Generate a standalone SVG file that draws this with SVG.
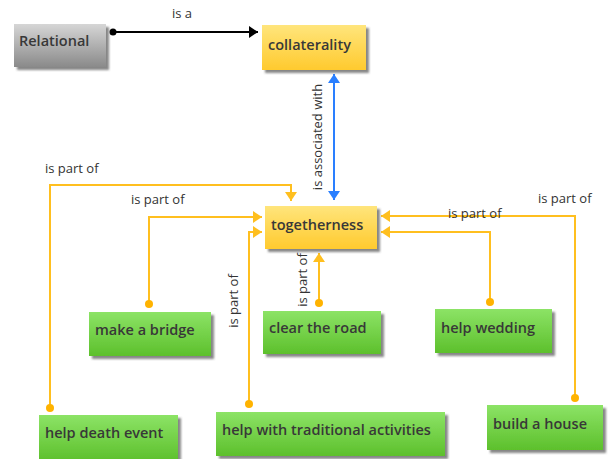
<svg xmlns="http://www.w3.org/2000/svg" width="611" height="459" viewBox="0 0 611 459">
<defs>
<linearGradient id="gGray" x1="0" y1="0" x2="0" y2="1"><stop offset="0" stop-color="#d6d6d6"/><stop offset="1" stop-color="#8a8a8a"/></linearGradient>
<linearGradient id="gYellow" x1="0" y1="0" x2="0" y2="1"><stop offset="0" stop-color="#ffe57c"/><stop offset="1" stop-color="#ffca2e"/></linearGradient>
<linearGradient id="gGreen" x1="0" y1="0" x2="0" y2="1"><stop offset="0" stop-color="#8ce366"/><stop offset="1" stop-color="#5dc02c"/></linearGradient>
<filter id="sh" x="-10%" y="-10%" width="130%" height="140%"><feDropShadow dx="3" dy="3" stdDeviation="1.2" flood-color="#555" flood-opacity="0.7"/></filter>
<marker id="aO" markerWidth="10" markerHeight="12" refX="9" refY="6" orient="auto" markerUnits="userSpaceOnUse"><path d="M0,0 L9,6 L0,12 Z" fill="#ffbf1f"/></marker>
<marker id="aB" markerWidth="10" markerHeight="12" refX="9" refY="6" orient="auto-start-reverse" markerUnits="userSpaceOnUse"><path d="M0,0 L9,6 L0,12 Z" fill="#2a7fff"/></marker>
<marker id="aK" markerWidth="10" markerHeight="12" refX="9" refY="6" orient="auto" markerUnits="userSpaceOnUse"><path d="M0,0 L9,6 L0,12 Z" fill="#000"/></marker>
</defs>
<style>
.node text{font-family:"Open Sans","Noto Sans",sans-serif;font-size:14.5px;font-weight:600;fill:#383838;}
.lbl{font-family:"Open Sans","Noto Sans",sans-serif;font-size:13px;fill:#333;}
.o{fill:none;stroke:#ffbf1f;stroke-width:2;}
.dot{fill:#ffb300;}
</style>
<g id="connectors">
<path d="M113,32 H258" fill="none" stroke="#000" stroke-width="2" marker-end="url(#aK)"/>
<circle cx="113" cy="32" r="3.5" fill="#000"/>
<path d="M334,74 V200" fill="none" stroke="#2a7fff" stroke-width="2" marker-start="url(#aB)" marker-end="url(#aB)"/>
<path class="o" d="M50,408 V185 H291 V201" marker-end="url(#aO)"/>
<circle class="dot" cx="50" cy="408" r="4"/>
<path class="o" d="M149,304 V217 H262" marker-end="url(#aO)"/>
<circle class="dot" cx="149" cy="304" r="4"/>
<path class="o" d="M249,404 V232 H262" marker-end="url(#aO)"/>
<circle class="dot" cx="249" cy="404" r="4"/>
<path class="o" d="M319,303 V253" marker-end="url(#aO)"/>
<circle class="dot" cx="319" cy="303" r="4"/>
<path class="o" d="M490,302 V232 H381" marker-end="url(#aO)"/>
<circle class="dot" cx="490" cy="302" r="4"/>
<path class="o" d="M575,398 V216 H381" marker-end="url(#aO)"/>
<circle class="dot" cx="575" cy="398" r="4"/>
<text class="lbl" x="182" y="18" text-anchor="middle">is a</text>
<text class="lbl" transform="translate(322,137) rotate(-90)" text-anchor="middle" font-size="13.5">is associated with</text>
<text class="lbl" x="45" y="173">is part of</text>
<text class="lbl" x="131" y="204">is part of</text>
<text class="lbl" transform="translate(238,301) rotate(-90)" text-anchor="middle">is part of</text>
<text class="lbl" transform="translate(307,280) rotate(-90)" text-anchor="middle">is part of</text>
<text class="lbl" x="448" y="218">is part of</text>
<text class="lbl" x="538" y="203">is part of</text>
</g>
<g id="n-relational" class="node"><rect x="14" y="24" width="92" height="43" fill="url(#gGray)" filter="url(#sh)"/><text x="19" y="46">Relational</text></g>
<g id="n-collaterality" class="node"><rect x="262" y="25" width="104" height="45" fill="url(#gYellow)" filter="url(#sh)"/><text x="268" y="50">collaterality</text></g>
<g id="n-togetherness" class="node"><rect x="265" y="206" width="112" height="43" fill="url(#gYellow)" filter="url(#sh)"/><text x="271" y="230">togetherness</text></g>
<g id="n-bridge" class="node"><rect x="89" y="312" width="122" height="44" fill="url(#gGreen)" filter="url(#sh)"/><text x="95" y="335">make a bridge</text></g>
<g id="n-road" class="node"><rect x="263" y="311" width="118" height="43" fill="url(#gGreen)" filter="url(#sh)"/><text x="269" y="333">clear the road</text></g>
<g id="n-wedding" class="node"><rect x="435" y="309" width="117" height="44" fill="url(#gGreen)" filter="url(#sh)"/><text x="441" y="333">help wedding</text></g>
<g id="n-death" class="node"><rect x="39" y="415" width="139" height="46" fill="url(#gGreen)" filter="url(#sh)"/><text x="45" y="438">help death event</text></g>
<g id="n-traditional" class="node"><rect x="216" y="412" width="229" height="44" fill="url(#gGreen)" filter="url(#sh)"/><text x="222" y="435">help with traditional activities</text></g>
<g id="n-house" class="node"><rect x="487" y="405" width="116" height="45" fill="url(#gGreen)" filter="url(#sh)"/><text x="493" y="429">build a house</text></g>
</svg>
